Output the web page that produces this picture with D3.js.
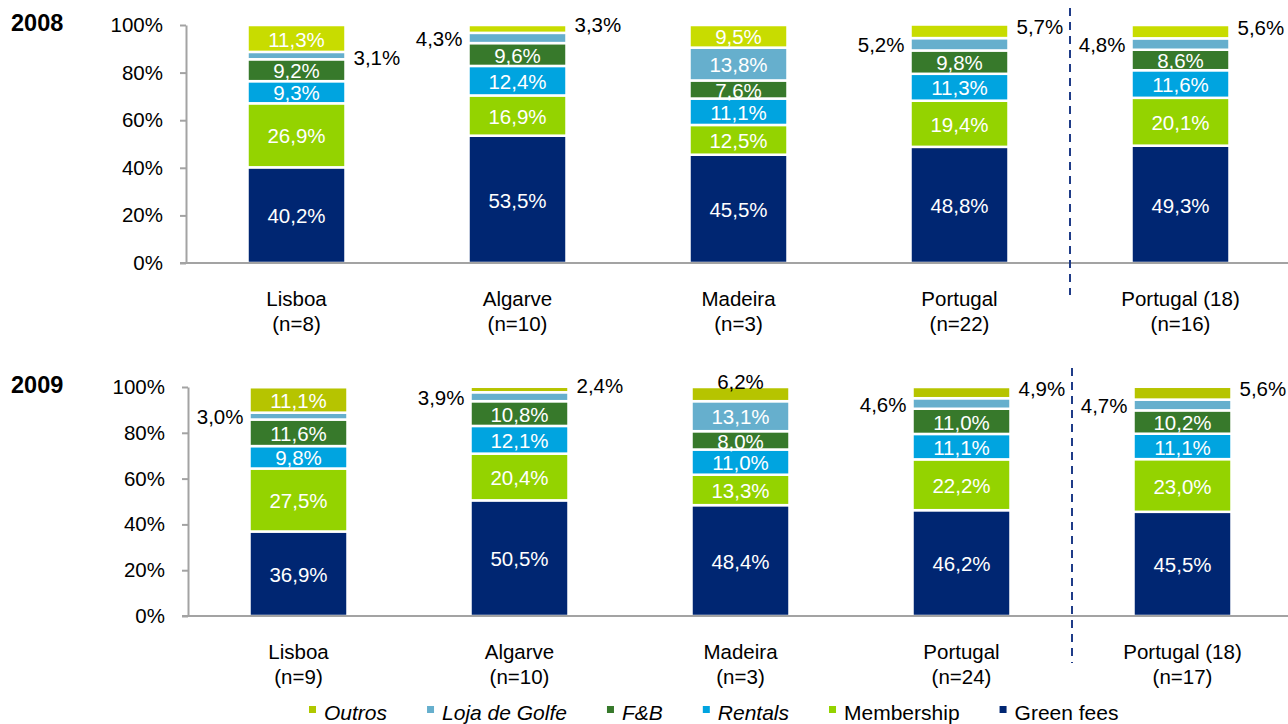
<!DOCTYPE html>
<html><head><meta charset="utf-8">
<script src="https://cdn.jsdelivr.net/npm/d3@7"></script>
<style>body{margin:0;background:#fff} text{font-family:"Liberation Sans",Arial,sans-serif}</style>
</head><body><svg id="c" width="1288" height="724"></svg>
<script>
// ---- data ----
const categories = ["Lisboa", "Algarve", "Madeira", "Portugal", "Portugal (18)"];
const nLabels2008 = ["(n=8)", "(n=10)", "(n=3)", "(n=22)", "(n=16)"];
const nLabels2009 = ["(n=9)", "(n=10)", "(n=3)", "(n=24)", "(n=17)"];
const seriesNames = ["Green fees", "Membership", "Rentals", "F&B", "Loja de Golfe", "Outros"];

const greenFees2008  = [40.2, 53.5, 45.5, 48.8, 49.3];
const membership2008 = [26.9, 16.9, 12.5, 19.4, 20.1];
const rentals2008    = [9.3, 12.4, 11.1, 11.3, 11.6];
const fb2008         = [9.2, 9.6, 7.6, 9.8, 8.6];
const loja2008       = [3.1, 4.3, 13.8, 5.2, 4.8];
const outros2008     = [11.3, 3.3, 9.5, 5.7, 5.6];

const greenFees2009  = [36.9, 50.5, 48.4, 46.2, 45.5];
const membership2009 = [27.5, 20.4, 13.3, 22.2, 23.0];
const rentals2009    = [9.8, 12.1, 11.0, 11.1, 11.1];
const fb2009         = [11.6, 10.8, 8.0, 11.0, 10.2];
const loja2009       = [3.0, 3.9, 13.1, 4.6, 4.7];
const outros2009     = [11.1, 2.4, 6.2, 4.9, 5.6];

const yTicks = [0, 20, 40, 60, 80, 100];

// label placement for small segments
const lojaPlace2008   = ["right", "left", "inside", "left", "left"];
const outrosPlace2008 = ["inside", "right", "inside", "right", "right"];
const lojaPlace2009   = ["left", "left", "inside", "left", "left"];
const outrosPlace2009 = ["inside", "right", "above", "right", "right"];

// ---- styles ----
const colors = {
  "Green fees": "#002672",
  "Membership": "#94D300",
  "Rentals": "#00A4E0",
  "F&B": "#37792B",
  "Loja de Golfe": "#66AFCD"
};
const FONT = 20.5;
const svg = d3.select("#c");
const fmt = v => String(v.toFixed(1)).replace(".", ",") + "%";

const panels = [
  { year: "2008", n: nLabels2008, top: 25, bottom: 263, axisX: 186, outrosColor: "#C8DC00",
    vals: [greenFees2008, membership2008, rentals2008, fb2008, loja2008, outros2008],
    lojaPlace: lojaPlace2008, outrosPlace: outrosPlace2008, dashTop: 8, dashBottom: 295 },
  { year: "2009", n: nLabels2009, top: 387, bottom: 616, axisX: 188, outrosColor: "#B6C400",
    vals: [greenFees2009, membership2009, rentals2009, fb2009, loja2009, outros2009],
    lojaPlace: lojaPlace2009, outrosPlace: outrosPlace2009, dashTop: 368, dashBottom: 663 }
];

panels.forEach(p => {
  const rows = categories.map((c, i) => {
    const r = { cat: c, idx: i };
    seriesNames.forEach((s, k) => r[s] = p.vals[k][i]);
    return r;
  });
  const stack = d3.stack().keys(seriesNames)(rows);
  const y = d3.scaleLinear().domain([0, 100]).range([p.bottom, p.top]);
  const x = d3.scaleBand().domain(categories).range([p.axisX, p.axisX + 1105])
    .paddingInner(0.5566).paddingOuter(0.2783);
  const g = svg.append("g");
  const col = s => s === "Outros" ? p.outrosColor : colors[s];

  // year label
  g.append("text").attr("x", 11).attr("y", p.top - 2).attr("dy", "0.35em")
    .attr("font-size", 23.5).attr("font-weight", "bold").attr("fill", "#000").text(p.year);

  // y axis
  const ax = g.append("g").attr("transform", `translate(${p.axisX},0)`)
    .call(d3.axisLeft(y).tickValues(yTicks).tickFormat(d => d + "%").tickSize(6).tickSizeOuter(0).tickPadding(17));
  ax.select(".domain").attr("stroke", "#A3A3A3").attr("stroke-width", 2);
  ax.selectAll(".tick line").attr("stroke", "#A3A3A3").attr("stroke-width", 2);
  ax.selectAll(".tick text").attr("font-size", FONT).attr("fill", "#000")
    .style("font-family", '"Liberation Sans", Arial, sans-serif');

  // bars
  stack.forEach(layer => {
    g.append("g").selectAll("rect").data(layer).join("rect")
      .attr("x", d => x(d.data.cat))
      .attr("width", x.bandwidth())
      .attr("y", d => y(d[1]))
      .attr("height", d => y(d[0]) - y(d[1]))
      .attr("fill", col(layer.key))
      .attr("stroke", "#fff").attr("stroke-width", 2.5);
  });

  // baseline
  g.append("line").attr("x1", p.axisX - 6).attr("x2", 1288)
    .attr("y1", y(0)).attr("y2", y(0)).attr("stroke", "#A3A3A3").attr("stroke-width", 2);

  // segment labels
  stack.forEach(layer => {
    layer.forEach(d => {
      const i = d.data.idx;
      let place = "inside";
      if (layer.key === "Loja de Golfe") place = p.lojaPlace[i];
      if (layer.key === "Outros") place = p.outrosPlace[i];
      const cx = x(d.data.cat) + x.bandwidth() / 2;
      const cy = (y(d[0]) + y(d[1])) / 2;
      const t = g.append("text").attr("font-size", FONT).attr("dy", "0.35em").text(fmt(d.data[layer.key]));
      if (place === "inside") {
        t.attr("x", cx).attr("y", cy + 1).attr("text-anchor", "middle").attr("fill", "#fff");
      } else if (place === "left") {
        t.attr("x", x(d.data.cat) - 6).attr("y", cy + 1).attr("text-anchor", "end").attr("fill", "#000");
      } else if (place === "right") {
        const dy = layer.key === "Outros" ? -4 : 2;
        t.attr("x", x(d.data.cat) + x.bandwidth() + 8).attr("y", cy + dy).attr("text-anchor", "start").attr("fill", "#000");
      } else if (place === "above") {
        t.attr("x", cx).attr("y", y(d[1]) - 5).attr("text-anchor", "middle").attr("fill", "#000");
      }
    });
  });

  // category labels
  categories.forEach((c, i) => {
    const cx = x(c) + x.bandwidth() / 2;
    g.append("text").attr("x", cx).attr("y", y(0) + 36).attr("dy", "0.35em")
      .attr("text-anchor", "middle").attr("font-size", FONT).attr("fill", "#000").text(c);
    g.append("text").attr("x", cx).attr("y", y(0) + 61).attr("dy", "0.35em")
      .attr("text-anchor", "middle").attr("font-size", FONT).attr("fill", "#000").text(p.n[i]);
  });

  // dashed separator
  const sepX = (x(categories[3]) + x.bandwidth() + x(categories[4])) / 2;
  g.append("line").attr("x1", sepX).attr("x2", sepX).attr("y1", p.dashTop).attr("y2", p.dashBottom)
    .attr("stroke", "#1F3C88").attr("stroke-width", 2).attr("stroke-dasharray", "8,6");
});

// legend
const legendOrder = ["Outros", "Loja de Golfe", "F&B", "Rentals", "Membership", "Green fees"];
const legendItalic = [true, true, true, true, false, false];
const legendColors = { ...colors, "Outros": "#B0C800" };
const lg = svg.append("g");
let lx = 309;
legendOrder.forEach((s, i) => {
  lg.append("rect").attr("x", lx).attr("y", 706).attr("width", 7).attr("height", 7).attr("fill", legendColors[s]);
  const t = lg.append("text").attr("x", lx + 15).attr("y", 713).attr("dy", "0.35em")
    .attr("font-size", 21).attr("fill", "#000").attr("font-style", legendItalic[i] ? "italic" : "normal").text(s);
  lx = lx + 15 + t.node().getComputedTextLength() + 40;
});
</script></body></html>
